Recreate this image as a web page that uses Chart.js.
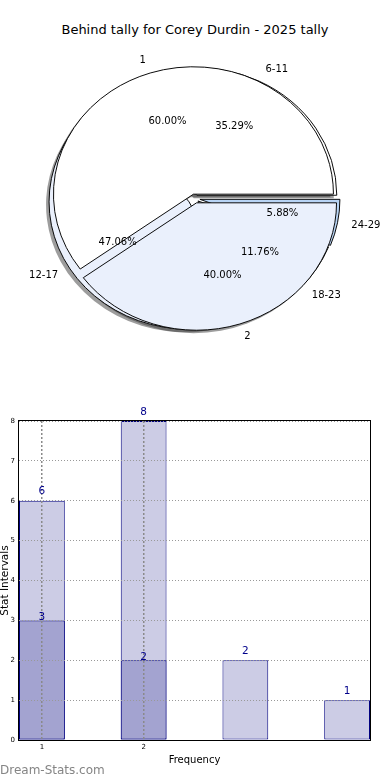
<!DOCTYPE html>
<html>
<head>
<meta charset="utf-8">
<script src="https://cdn.jsdelivr.net/npm/chart.js@4.4.1/dist/chart.umd.min.js"></script>
<style>
  html, body { margin: 0; padding: 0; background: #fff; }
  #page { position: relative; width: 390px; height: 780px; overflow: hidden; font-family: "DejaVu Sans", sans-serif; }
  #title { position: absolute; left: 0; top: 22px; width: 390px; text-align: center; font-size: 13px; line-height: 16px; color: #000; }
  .layer { position: absolute; left: 0; }
  #mark { position: absolute; left: 0; top: 762px; font-size: 12px; line-height: 16px; color: #858585; }
</style>
</head>
<body>
<div id="page">
  <div id="title">Behind tally for Corey Durdin - 2025 tally</div>
  <canvas id="pieBack" class="layer" style="top:40px" width="390" height="317"></canvas>
  <canvas id="pieFront" class="layer" style="top:40px" width="390" height="317"></canvas>
  <canvas id="bars" class="layer" style="top:400px" width="390" height="380"></canvas>
  <div id="mark">Dream-Stats.com</div>
</div>
<script>
// data
const freqLabels = ['1', '2'];
const freqCounts = [3, 2];
const intervalLabels = ['6-11', '12-17', '18-23', '24-29'];
const intervalCounts = [6, 8, 2, 1];

// looks
const FONT = '"DejaVu Sans", sans-serif';
const freqColors = ['#ffffff', '#eaf0fc'];
const freqExplode = [5, 5];
const intervalColors = ['#ffffff', '#eaf0fc', '#eaf0fc', '#b8d4f5'];
const intervalExplode = [4, 7, 4, 5];
const PIE_R = 140;
const SQUASH = 0.91;   // the original pie is a bit flattened

// matplotlib goes counter clockwise, Chart.js clockwise -> reverse
const rev = (a) => a.slice().reverse();

const pieCenter = (chart) => {
    const ca = chart.chartArea;
    return { cx: (ca.left + ca.right) / 2, cy: (ca.top + ca.bottom) / 2 };
};

const squash = (ctx, chart) => {
    const { cx, cy } = pieCenter(chart);
    ctx.translate(cx, cy);
    ctx.scale(1, SQUASH);
    ctx.translate(-cx, -cy);
};

// push every slice out along its middle angle
const explodePlugin = {
    id: 'explode',
    afterDatasetUpdate(chart, args) {
        const ds = chart.data.datasets[args.index];
        args.meta.data.forEach((arc, i) => {
            const mid = (arc.startAngle + arc.endAngle) / 2;
            const e = ds.explode[i] || 0;
            arc.x += Math.cos(mid) * e;
            arc.y += Math.sin(mid) * e;
        });
    }
};

const ellipsePlugin = {
    id: 'ellipse',
    beforeDatasetsDraw(chart) {
        chart.ctx.save();
        squash(chart.ctx, chart);
    },
    afterDatasetsDraw(chart) {
        chart.ctx.restore();
    }
};

let frontChart = null;
let backChart = null;

// shadows of both pies, under all wedges
const shadowPlugin = {
    id: 'pieShadow',
    beforeDatasetsDraw(chart) {
        const ctx = chart.ctx;
        const arcs = [...chart.getDatasetMeta(0).data];
        if (frontChart) arcs.push(...frontChart.getDatasetMeta(0).data);
        ctx.save();
        ctx.translate(-3, 3);
        squash(ctx, chart);
        ctx.fillStyle = 'rgba(60,60,60,0.5)';
        arcs.forEach(a => {
            ctx.beginPath();
            ctx.moveTo(a.x, a.y);
            ctx.arc(a.x, a.y, a.outerRadius, a.startAngle, a.endAngle);
            ctx.closePath();
            ctx.fill();
        });
        ctx.restore();
    }
};

// labels of both pies go on the top canvas
const pieLabelPlugin = {
    id: 'pieLabels',
    afterDraw(chart) {
        const ctx = chart.ctx;
        const { cy } = pieCenter(chart);
        ctx.save();
        ctx.font = '10px ' + FONT;
        ctx.fillStyle = '#000';
        ctx.textBaseline = 'middle';
        [chart, backChart].filter(Boolean).forEach(c => {
            const ds = c.data.datasets[0];
            const total = ds.data.reduce((s, v) => s + v, 0);
            c.getDatasetMeta(0).data.forEach((arc, i) => {
                const mid = (arc.startAngle + arc.endAngle) / 2;
                const ux = Math.cos(mid), uy = Math.sin(mid);
                const r = arc.outerRadius;
                // outer label
                const lx = arc.x + ux * r * 1.1;
                const ly = cy + (arc.y + uy * r * 1.1 - cy) * SQUASH;
                ctx.textAlign = ux > 0 ? 'left' : 'right';
                ctx.fillText(c.data.labels[i], lx, ly);
                // percentage
                const px = arc.x + ux * r * 0.6;
                const py = cy + (arc.y + uy * r * 0.6 - cy) * SQUASH;
                ctx.textAlign = 'center';
                ctx.fillText((ds.data[i] / total * 100).toFixed(2) + '%', px, py);
            });
        });
        ctx.restore();
    }
};

const pieOptions = {
    responsive: false,
    animation: false,
    events: [],
    rotation: 90,
    radius: PIE_R,
    layout: { padding: 0 },
    plugins: { legend: { display: false }, tooltip: { enabled: false } }
};

frontChart = new Chart(document.getElementById('pieFront'), {
    type: 'pie',
    data: {
        labels: rev(freqLabels),
        datasets: [{
            data: rev(freqCounts),
            explode: rev(freqExplode),
            backgroundColor: rev(freqColors),
            borderColor: '#000',
            borderWidth: 1,
            hoverOffset: 0
        }]
    },
    options: pieOptions,
    plugins: [explodePlugin, ellipsePlugin, pieLabelPlugin]
});

backChart = new Chart(document.getElementById('pieBack'), {
    type: 'pie',
    data: {
        labels: rev(intervalLabels),
        datasets: [{
            data: rev(intervalCounts),
            explode: rev(intervalExplode),
            backgroundColor: rev(intervalColors),
            borderColor: '#000',
            borderWidth: 1,
            hoverOffset: 0
        }]
    },
    options: pieOptions,
    plugins: [explodePlugin, shadowPlugin, ellipsePlugin]
});

frontChart.draw();

// ---- bar chart ----
const barTextPlugin = {
    id: 'barText',
    afterDraw(chart) {
        const ctx = chart.ctx;
        const ca = chart.chartArea;
        ctx.save();
        // frame
        ctx.strokeStyle = '#000';
        ctx.lineWidth = 1;
        ctx.strokeRect(Math.round(ca.left) - 0.5, Math.round(ca.top) - 0.5,
            Math.round(ca.right - ca.left) + 1, Math.round(ca.bottom - ca.top) + 1);
        // values over bars
        ctx.font = '10.5px ' + FONT;
        ctx.fillStyle = '#00008b';
        ctx.textAlign = 'center';
        ctx.textBaseline = 'middle';
        chart.data.datasets.forEach((ds, d) => {
            chart.getDatasetMeta(d).data.forEach((bar, i) => {
                ctx.fillText(String(ds.data[i].y), bar.x, bar.y - ds.labelLift);
            });
        });
        // axis titles
        ctx.fillStyle = '#000';
        ctx.font = '10px ' + FONT;
        ctx.textBaseline = 'middle';
        ctx.fillText('Frequency', (ca.left + ca.right) / 2, 360);
        ctx.translate(7.5, (ca.top + ca.bottom) / 2);
        ctx.rotate(-Math.PI / 2);
        ctx.font = '10.5px ' + FONT;
        ctx.textBaseline = 'alphabetic';
        ctx.fillText('Stat Intervals', 0, 0);
        ctx.restore();
    }
};

const barChart = new Chart(document.getElementById('bars'), {
    type: 'bar',
    data: {
        datasets: [{
            data: freqCounts.map((v, i) => ({ x: i + 1, y: v })),
            backgroundColor: '#a3a3d0',
            borderColor: '#000080',
            borderWidth: 1,
            borderSkipped: false,
            grouped: false,
            order: 0,
            labelLift: 3
        }, {
            data: intervalCounts.map((v, i) => ({ x: i + 1, y: v })),
            backgroundColor: '#ccccE5',
            borderColor: '#000080',
            borderWidth: 1,
            borderSkipped: false,
            grouped: false,
            order: 1,
            labelLift: 9
        }]
    },
    options: {
        responsive: false,
        animation: false,
        events: [],
        categoryPercentage: 1,
        barPercentage: 0.45,
        layout: { padding: { top: 21, right: 20, bottom: 0, left: 0 } },
        plugins: { legend: { display: false }, tooltip: { enabled: false } },
        scales: {
            x: {
                type: 'linear',
                min: 0.775,
                max: 4.225,
                offset: false,
                afterBuildTicks: (s) => { s.ticks = freqLabels.map(v => ({ value: Number(v) })); },
                afterFit: (s) => { s.height = 40; },
                ticks: { font: { size: 7, family: FONT }, color: '#000', padding: 3, maxRotation: 0, autoSkip: false,
                    callback: (v) => String(v) },
                grid: { color: '#8a8a8a', lineWidth: 1.5, drawTicks: false, offset: false, z: 1 },
                border: { display: false, dash: [2, 2] }
            },
            y: {
                min: 0,
                max: 8,
                afterFit: (s) => { s.width = 19; },
                ticks: { stepSize: 1, font: { size: 7, family: FONT }, color: '#000', padding: 4 },
                grid: { color: '#999', lineWidth: 1, drawTicks: false, z: 1 },
                border: { display: false, dash: [1, 2] }
            }
        }
    },
    plugins: [barTextPlugin]
});
</script>
</body>
</html>
